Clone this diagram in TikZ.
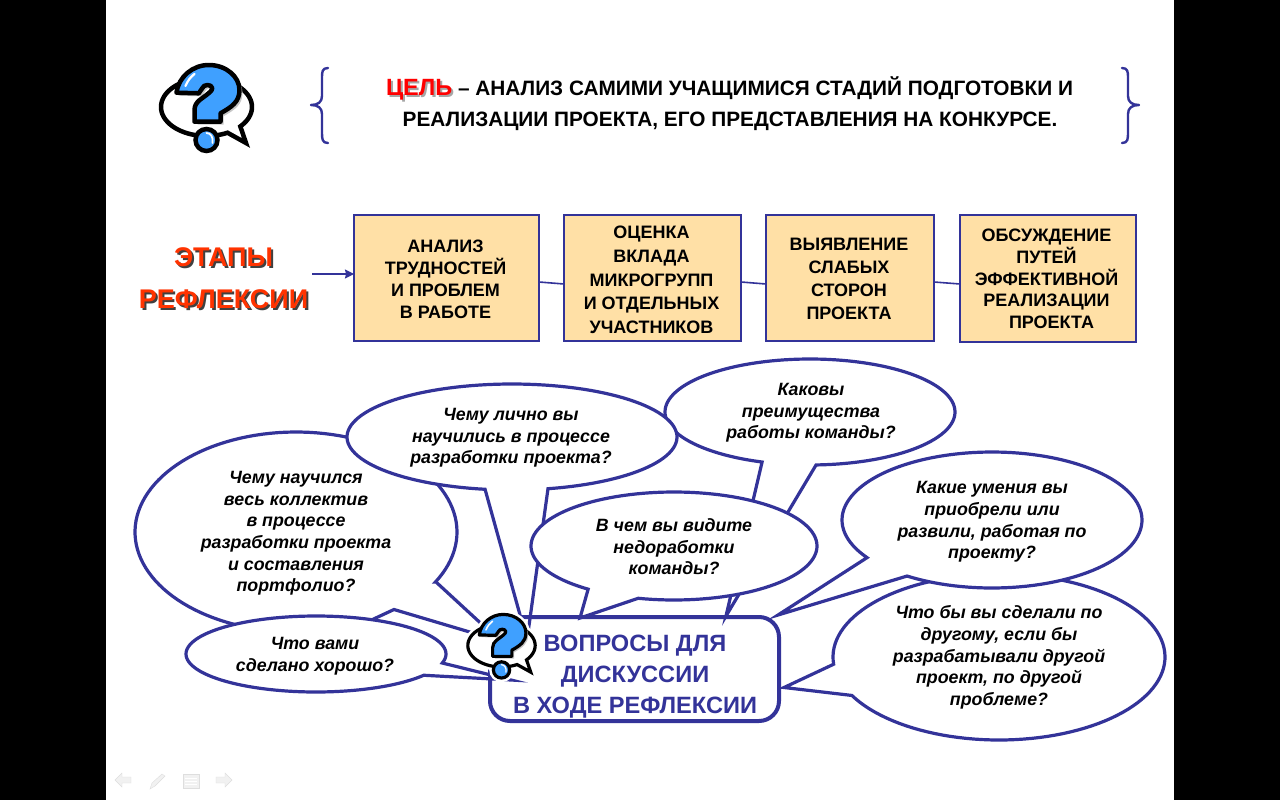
\documentclass[tikz,border=0pt]{standalone}
\usepackage{fontspec}
\setmainfont{Liberation Sans}
\usetikzlibrary{arrows.meta,calc}
\definecolor{navy}{HTML}{333399}
\definecolor{qblue}{HTML}{3FA0FF}
\definecolor{boxfill}{HTML}{FFE0A6}
\definecolor{orangered}{HTML}{FF3300}
\definecolor{navgray}{HTML}{F1F1F1}
\newcommand{\speech}[7]{\filldraw[bub] plot[domain=#5:#6,samples=120] ({#1+#3*cos(\x)},{#2+#4*sin(\x)}) #7 -- cycle;}
\newcommand{\qpath}{(-30,-14.3) .. controls (-28,-30) and (-14,-42) .. (2.3,-42) .. controls (20,-42) and (33,-30) .. (33,-17) .. controls (33,-5) and (25,0) .. (14,6.3) -- (14,14.7) -- (-12,14.7) -- (-12,3) .. controls (-12,-6) and (-3,-9) .. (2,-13.7) .. controls (5,-16) and (6,-18) .. (5.7,-19) .. controls (5,-23) and (-3,-23) .. (-4.3,-18.7) -- (-7.7,-13.7) -- cycle}
\newcommand{\bpath}{plot[domain=62.5:402,samples=80] ({45.5*cos(\x)},{29*sin(\x)}) -- (39.5,36) -- cycle}
\newcommand{\qicon}[5]{%
\begin{scope}[shift={(#1,#2)},scale=#3]
 \ifnum#5=1
  \draw[white,line width=#4+5pt,fill=white,line join=round] \bpath;
  \draw[white,line width=#4+5pt,fill=white,line join=round] \qpath;
  \draw[white,line width=#4+5pt,fill=white] (0,33) circle (11);
 \fi
 \filldraw[draw=black,fill=white,line width=#4,miter limit=8] \bpath;
 \fill[gray!45,shift={(3,3)}] \qpath;
 \filldraw[draw=black,fill=qblue,line width=#4,line join=round] \qpath;
 \draw[white,line width=#4*.5,line cap=round] (-21,-21) .. controls (-19,-26) and (-16,-30) .. (-12,-33);
 \filldraw[draw=black,fill=qblue,line width=#4] (0,33) circle (11);
 \draw[white,line width=#4*.4,line cap=round] (0,26) .. controls (4,26) and (7,30) .. (6,36);
\end{scope}}
\newcommand{\shad}[3]{\makebox[0pt][l]{\raisebox{-2pt}{\hspace{2pt}\textcolor{#3}{#1}}}\textcolor{#2}{#1}}
\tikzset{
 x=1pt,y=-1pt,
 bub/.style={draw=navy,fill=white,line width=3.2pt,miter limit=20},
 stagebox/.style={draw=navy,fill=boxfill,line width=2pt,inner sep=0pt,outer sep=0pt},
 stagetext/.style={align=center,inner sep=0pt,font=\fontsize{18}{#1}\selectfont\bfseries},
 bubtext/.style={align=center,inner sep=0pt,font=\fontsize{17.8}{21.6}\selectfont\bfseries\itshape},
 link/.style={draw=navy,line width=1.6pt},
 bracket/.style={draw=navy,line width=2.4pt,line cap=round,line join=round},
 navicon/.style={fill=navgray,draw=navgray!92!black,line width=.4pt}
}
\begin{document}
\begin{tikzpicture}
\useasboundingbox (0,0) rectangle (1280,800);
\fill[white] (0,0) rectangle (1280,800);
\fill[black] (0,0) rectangle (106,800);
\fill[black] (1174,0) rectangle (1280,800);

% header
\qicon{206.5}{107}{1}{4.5pt}{0}
\draw[bracket] (328,68) .. controls (322,68) and (322,72) .. (322,78) -- (322,96) .. controls (322,102) and (318,105) .. (311,105) .. controls (318,105) and (322,108) .. (322,114) -- (322,132) .. controls (322,139) and (322,143) .. (328,143);
\draw[bracket] (1122,68) .. controls (1128,68) and (1128,72) .. (1128,78) -- (1128,96) .. controls (1128,102) and (1132,105) .. (1139,105) .. controls (1132,105) and (1128,108) .. (1128,114) -- (1128,132) .. controls (1128,139) and (1128,143) .. (1122,143);
\node[inner sep=0pt,font=\fontsize{20.8}{25}\selectfont\bfseries] (goala) at (729.5,89) {{\fontsize{23.5}{25}\selectfont\shad{ЦЕЛЬ}{red}{gray!70}} – АНАЛИЗ САМИМИ УЧАЩИМИСЯ СТАДИЙ ПОДГОТОВКИ И};
\node[inner sep=0pt,font=\fontsize{20.8}{25}\selectfont\bfseries] (goalb) at (730,121) {РЕАЛИЗАЦИИ ПРОЕКТА, ЕГО ПРЕДСТАВЛЕНИЯ НА КОНКУРСЕ.};

% stages
\node[inner sep=0pt,font=\fontsize{27}{42}\selectfont\bfseries,align=center] (stages) at (223.5,279.5) {\shad{ЭТАПЫ}{orangered}{black!75}\\\shad{РЕФЛЕКСИИ}{orangered}{black!75}};
\node[stagebox,minimum width=185pt,minimum height=126pt] (b1) at (446.5,278) {};
\node[stagebox,minimum width=177pt,minimum height=126pt] (b2) at (652.5,278) {};
\node[stagebox,minimum width=168pt,minimum height=126pt] (b3) at (850,278) {};
\node[stagebox,minimum width=176pt,minimum height=127pt] (b4) at (1048,278.5) {};
\node[stagetext=22] (t1) at (445.5,279.5) {АНАЛИЗ\\ТРУДНОСТЕЙ\\И ПРОБЛЕМ\\В РАБОТЕ};
\node[stagetext=23.6] (t2) at (651.5,280) {ОЦЕНКА\\ВКЛАДА\\МИКРОГРУПП\\И ОТДЕЛЬНЫХ\\УЧАСТНИКОВ};
\node[stagetext=23] (t3) at (849,279) {ВЫЯВЛЕНИЕ\\СЛАБЫХ\\СТОРОН\\ПРОЕКТА};
\node[stagetext=21.6] (t4) at (1046.5,279) {ОБСУЖДЕНИЕ\\ПУТЕЙ\\ЭФФЕКТИВНОЙ\\РЕАЛИЗАЦИИ\\\ \ ПРОЕКТА};
\coordinate (arrowstart) at (312,274);
\draw[link,-{Stealth[length=9pt,width=9pt,inset=1pt]}] (arrowstart) -- (arrowstart -| b1.west);
\draw[link] ($(b1.east)+(0,4)$) -- ($(b2.west)+(0,6)$);
\draw[link] ($(b2.east)+(0,4)$) -- ($(b3.west)+(0,6)$);
\draw[link] ($(b3.east)+(0,4)$) -- ($(b4.west)+(0,5.5)$);

% discussion
\fill[white,rounded corners=20pt] (490,617) rectangle (779,721);
\speech{296}{532}{161}{100}{63}{390}{-- (436,582) -- (500,641) -- (394,609.5)}
\speech{316}{654}{130}{38}{34}{373.7}{-- (511,680)}
\speech{999}{657}{166}{83}{175}{512.4}{-- (784,687.5)}
\speech{992}{520}{150}{68}{146.4}{484.5}{-- (778,615)}
\speech{810}{412}{145}{53}{109.3}{447.6}{-- (726,616)}
\speech{512}{437}{165}{53}{99.4}{437.4}{-- (527,640)}
\speech{674}{546}{143}{54}{126.9}{464.5}{-- (580,618)}
\node[draw=navy,line width=4pt,rounded corners=20pt,minimum width=289pt,minimum height=104pt,inner sep=0pt,outer sep=0pt] (hub) at (634.5,669) {};
\qicon{501.5}{645.5}{.74}{3.2pt}{1}
\node[align=center,inner sep=0pt,text=navy,font=\fontsize{23.6}{31}\selectfont\bfseries] (hubtext) at (635,676.5) {ВОПРОСЫ ДЛЯ\\ДИСКУССИИ\\В ХОДЕ РЕФЛЕКСИИ};

\node[bubtext] (q1) at (296,533.5) {Чему научился\\весь коллектив\\в процессе\\разработки проекта\\и составления\\портфолио?};
\node[bubtext] (q2) at (511,438) {Чему лично вы\\научились в процессе\\разработки проекта?};
\node[bubtext] (q3) at (811,413) {Каковы\\преимущества\\работы команды?};
\node[bubtext] (q4) at (674,547) {В чем вы видите\\недоработки\\команды?};
\node[bubtext] (q5) at (992,522) {Какие умения вы\\приобрели или\\развили, работая по\\проекту?};
\node[bubtext] (q6) at (999,657.5) {Что бы вы сделали по\\другому, если бы\\разрабатывали другой\\проект, по другой\\проблеме?};
\node[bubtext] (q7) at (315,656) {Что вами\\сделано хорошо?};

% slide navigation
\filldraw[navicon] (115,780) -- (122,773) -- (122,777) -- (131,777) -- (131,783) -- (122,783) -- (122,787) -- cycle;
\filldraw[navicon] (150,789) -- (152,783) -- (162,774) -- (165,776) -- (155,786) -- cycle;
\filldraw[navicon] (183,774) rectangle (199,788);
\draw[white,line width=1pt] (185,778) -- (197,778) (185,781) -- (197,781) (185,784) -- (197,784);
\filldraw[navicon] (232,780) -- (225,773) -- (225,777) -- (216,777) -- (216,783) -- (225,783) -- (225,787) -- cycle;
\end{tikzpicture}
\end{document}
